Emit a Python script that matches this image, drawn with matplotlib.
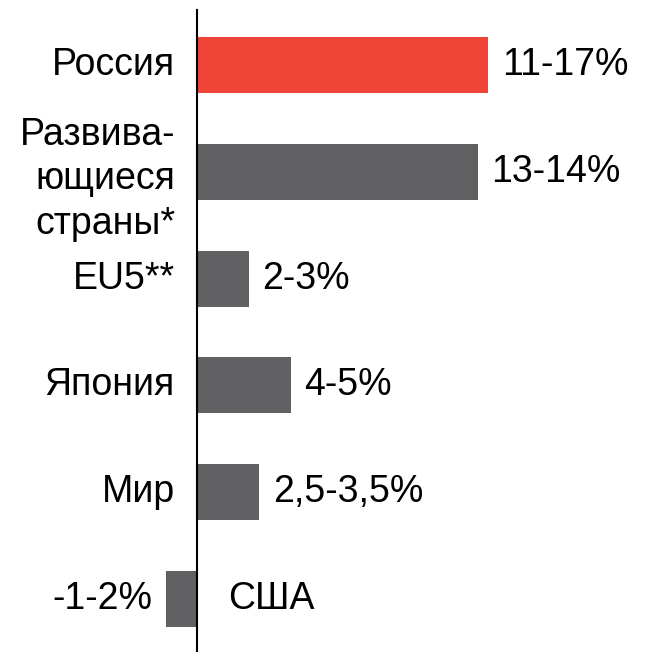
import matplotlib
matplotlib.use("Agg")
import matplotlib.pyplot as plt

# данные
strany = ["Россия", "Развива-\nющиеся\nстраны*", "EU5**", "Япония", "Мир", "США"]
rost = [14, 13.5, 2.5, 4.5, 3, -1.5]
podpisi = ["11-17%", "13-14%", "2-3%", "4-5%", "2,5-3,5%", "-1-2%"]
cveta = ["#EF4437", "#606062", "#606062", "#606062", "#606062", "#606062"]

plt.rcParams['font.family'] = ['Liberation Sans', 'DejaVu Sans']
fs = 27

fig = plt.figure(figsize=(6.53, 6.52), dpi=100)
ax = fig.add_axes([0, 0, 1, 1])

pos = list(range(len(strany)))
ax.barh(pos, rost, height=0.525, color=cveta)

# вертикальная ось
ax.axvline(0, ymin=0, ymax=0.985, color="black", lw=1.5)

for i, (nombre, v, txt) in enumerate(zip(strany, rost, podpisi)):
    if v >= 0:
        dy = 0.07 if "\n" in nombre else 0
        ax.text(-1.06, i + dy, nombre, ha="right", va="center", fontsize=fs,
                linespacing=1.3)
        ax.text(v + 0.65, i, txt, ha="left", va="center", fontsize=fs)
    else:
        ax.text(1.5, i, nombre, ha="left", va="center", fontsize=fs)
        ax.text(v - 0.65, i, txt, ha="right", va="center", fontsize=fs)

ax.set_xlim(-9.47, 21.92)
ax.set_ylim(5.496, -0.609)
ax.axis("off")

fig.savefig("out.png", dpi=100)
